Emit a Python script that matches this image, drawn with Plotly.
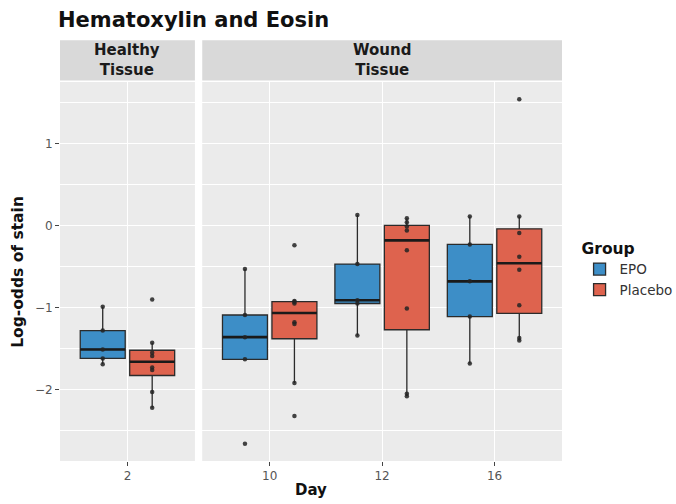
import numpy as np
import plotly.graph_objects as go

# ---------------- data ----------------
groups = ["EPO", "Placebo"]
healthy_days = ["2"]
wound_days = ["10", "12", "16"]

epo_d2 = [-0.99, -1.28, -1.51, -1.62, -1.69]
placebo_d2 = [-0.90, -1.43, -1.55, -1.59, -1.73, -1.76, -2.03, -2.22]

epo_d10 = [-0.53, -1.09, -1.36, -1.63, -2.66]
placebo_d10 = [-0.24, -0.92, -0.93, -0.95, -1.18, -1.20, -1.92, -2.32]

epo_d12 = [0.13, -0.47, -0.91, -0.95, -1.34]
placebo_d12 = [0.09, 0.04, -0.01, -0.06, -0.30, -1.01, -2.05, -2.08]

epo_d16 = [0.11, -0.23, -0.68, -1.11, -1.68]
placebo_d16 = [1.54, 0.11, -0.09, -0.38, -0.54, -0.97, -1.37, -1.40]

y_ticks = [-2, -1, 0, 1]
y_minor = [-2.5, -1.5, -0.5, 0.5, 1.5]

colors = {"EPO": "#3D8EC7", "Placebo": "#DE634E"}

panels = [
    ("x", "y", healthy_days, {"EPO": [epo_d2], "Placebo": [placebo_d2]}),
    ("x2", "y2", wound_days, {"EPO": [epo_d10, epo_d12, epo_d16],
                              "Placebo": [placebo_d10, placebo_d12, placebo_d16]}),
]

DODGE = 0.22
BOXW = 0.40
BOLD = "DejaVu Sans, sans-serif"


def stats(v):
    v = np.asarray(v, dtype=float)
    q1, med, q3 = np.percentile(v, [25, 50, 75])
    iqr = q3 - q1
    lf = v[v >= q1 - 1.5 * iqr].min()
    uf = v[v <= q3 + 1.5 * iqr].max()
    return q1, med, q3, lf, uf


fig = go.Figure()
for xa, ya, days, data in panels:
    for gi, g in enumerate(groups):
        off = -DODGE if gi == 0 else DODGE
        for di, vals in enumerate(data[g]):
            pos = di + 1 + off
            q1, med, q3, lf, uf = stats(vals)
            fig.add_trace(go.Box(
                x=[pos], q1=[q1], median=[med], q3=[q3],
                lowerfence=[lf], upperfence=[uf],
                width=BOXW, whiskerwidth=0, boxpoints=False,
                fillcolor=colors[g], line=dict(color="#2b2b2b", width=1.3),
                name=g, legendgroup=g,
                showlegend=(xa == "x" and di == 0),
                xaxis=xa, yaxis=ya, hoverinfo="skip"))
            fig.add_trace(go.Scatter(
                x=[pos - BOXW / 2, pos + BOXW / 2], y=[med, med],
                mode="lines", line=dict(color="#1a1a1a", width=2.6),
                showlegend=False, xaxis=xa, yaxis=ya, hoverinfo="skip"))
            fig.add_trace(go.Scatter(
                x=[pos] * len(vals), y=vals, mode="markers",
                marker=dict(color="rgba(35,35,35,0.85)", size=4.5),
                showlegend=False, xaxis=xa, yaxis=ya, hoverinfo="skip"))

all_vals = np.concatenate([np.asarray(v) for _, _, _, d in panels for g in groups for v in d[g]])
span = all_vals.max() - all_vals.min()
y_range = [all_vals.min() - 0.05 * span, all_vals.max() + 0.05 * span]

gap = 0.0146
left_w = 1.2 / 4.4 * (1 - gap)
tickfont = dict(family="DejaVu Sans, sans-serif", size=12, color="#555555")

common_x = dict(showgrid=True, gridcolor="white", gridwidth=1.1, zeroline=False,
                showline=False, ticks="outside", ticklen=4, tickcolor="#444444",
                tickfont=dict(tickfont))
fig.update_layout(
    font=dict(family="DejaVu Sans, sans-serif", color="#333333"),
    xaxis=dict(domain=[0, left_w], range=[0.4, 1.6], tickvals=[1],
               ticktext=healthy_days, anchor="y", **common_x),
    xaxis2=dict(domain=[left_w + gap, 1], range=[0.4, 3.6], tickvals=[1, 2, 3],
                ticktext=wound_days, anchor="y2", **common_x),
    yaxis=dict(range=y_range, tickvals=y_ticks, showgrid=True, gridcolor="white",
               gridwidth=1.1, zeroline=False, showline=False, ticks="outside",
               ticklen=4, tickcolor="#444444", tickfont=dict(tickfont), anchor="x",
               minor=dict(tickvals=y_minor, showgrid=True, gridcolor="white",
                          gridwidth=0.55, ticks="")),
    yaxis2=dict(range=y_range, tickvals=y_ticks, showgrid=True, gridcolor="white",
                gridwidth=1.1, zeroline=False, showline=False, showticklabels=False,
                ticks="", anchor="x2", matches="y",
                minor=dict(tickvals=y_minor, showgrid=True, gridcolor="white",
                           gridwidth=0.55, ticks="")),
    plot_bgcolor="#EBEBEB",
    paper_bgcolor="white",
    width=676, height=504,
    margin=dict(l=60, r=114, t=82, b=43, autoexpand=False),
    title=dict(text="<b>Hematoxylin and Eosin</b>", xref="container", yref="container",
               x=58 / 676, xanchor="left", y=1 - 20 / 504, yanchor="middle",
               font=dict(family=BOLD, size=21, color="#111111")),
    legend=dict(title=dict(text="<b>Group</b>",
                           font=dict(family=BOLD, size=15.5, color="#111111")),
                x=1.035, xanchor="left", y=0.505, yanchor="middle",
                font=dict(family="DejaVu Sans, sans-serif", size=13.5, color="#333333"),
                itemwidth=30, tracegroupgap=0),
    showlegend=True,
)

strip_font = dict(family=BOLD, size=15, color="#1A1A1A")
for xa, label in [("x", "Healthy<br>Tissue"), ("x2", "Wound<br>Tissue")]:
    fig.add_shape(type="rect", xref=f"{xa} domain", yref="paper",
                  x0=0, x1=1, y0=1.004, y1=1.110, fillcolor="#D9D9D9",
                  line=dict(width=0), layer="below")
    fig.add_annotation(text=f"<b>{label}</b>", xref=f"{xa} domain", yref="paper",
                       x=0.5, y=1.057, showarrow=False, font=strip_font,
                       xanchor="center", yanchor="middle")

fig.add_annotation(text="<b>Day</b>", xref="paper", yref="paper", x=0.5, y=-0.077,
                   showarrow=False, xanchor="center", yanchor="middle",
                   font=dict(family=BOLD, size=15, color="#111111"))
fig.add_annotation(text="<b>Log-odds of stain</b>", xref="paper", yref="paper",
                   x=-0.085, y=0.5, textangle=-90, showarrow=False,
                   xanchor="center", yanchor="middle",
                   font=dict(family=BOLD, size=15.5, color="#111111"))

fig.write_html("out.html")
